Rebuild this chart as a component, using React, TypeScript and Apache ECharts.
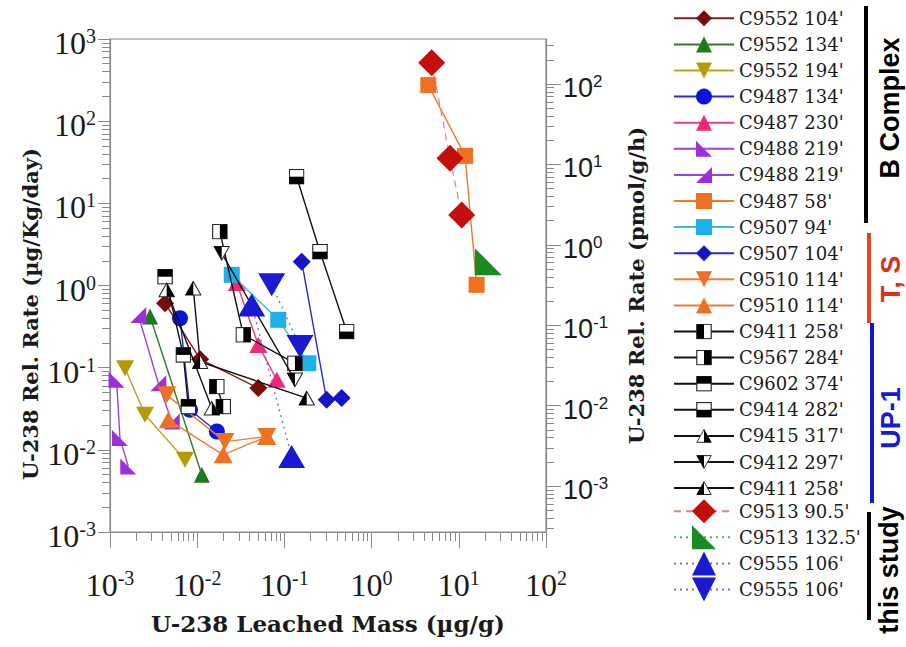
import React, { useEffect, useRef } from 'react';
import * as echarts from 'echarts';

// [U-238 leached mass (µg/g), U-238 release rate (µg/Kg/day)]
const c9552_104 = [[4.28e-3, 0.61], [1.08e-2, 0.127], [5.02e-2, 0.0564]];
const c9552_134 = [[2.88e-3, 0.419], [1.13e-2, 0.00497]];
const c9552_194 = [[1.49e-3, 0.0986], [2.52e-3, 0.0267], [7.24e-3, 0.00755]];
const c9487_134 = [[6.35e-3, 0.4], [8.26e-3, 0.0307], [1.68e-2, 0.0167]];
const c9487_230 = [[2.84e-2, 1.07], [5.02e-2, 0.189], [8.17e-2, 0.0711]];
const c9488_219a = [[1.19e-3, 0.0711], [1.3e-3, 0.0139], [1.62e-3, 0.00627]];
const c9488_219b = [[2.11e-3, 0.439], [3.58e-3, 0.0647], [5.11e-3, 0.0221]];
const c9487_58 = [[4.47, 275], [11.8, 37.8], [16.0, 1.02]];
const c9507_94 = [[2.49e-2, 1.35], [8.51e-2, 0.382], [0.188, 0.113]];
const c9507_104 = [[0.158, 1.95], [0.305, 0.0406], [0.454, 0.0426]];
const c9510_114a = [[4.47e-3, 0.0467], [2.08e-2, 0.0126], [6.27e-2, 0.0145]];
const c9510_114b = [[4.67e-3, 0.0232], [1.99e-2, 0.00869], [6.27e-2, 0.0145]];
const c9411_258sq = [[1.68e-2, 0.0589], [1.99e-2, 0.0336]];
const c9567_284 = [[1.82e-2, 4.53], [3.38e-2, 0.251], [0.132, 0.113]];
const c9602_374 = [[4.28e-3, 1.28], [6.93e-3, 0.143], [7.91e-3, 0.0336]];
const c9414_282 = [[0.138, 21.1], [0.256, 2.58], [0.518, 0.275]];
const c9415_317 = [[4.47e-3, 0.884], [1.47e-2, 0.0321]];
const c9412_297 = [[1.91e-2, 2.47], [0.132, 0.0711]];
const c9411_258tri = [[9.01e-3, 0.927], [1.08e-2, 0.118], [0.18, 0.0426]];
const c9513_905 = [[4.89, 515], [7.93, 35.4], [10.8, 7.23]];
const c9513_1325 = [[21.8, 1.95]];
const c9555_106up = [[4.22e-2, 0.581], [0.121, 0.0083]];
const c9555_106down = [[7.15e-2, 1.02], [0.151, 0.181]];

// decade exponents for tick labels
const xDecades = [-3, -2, -1, 0, 1, 2];
const leftDecades = [-3, -2, -1, 0, 1, 2, 3];
const rightDecades = [-3, -2, -1, 0, 1, 2];
// right axis (pmol/g/h) range, log10
const rightMin = -3.57;
const rightMax = 2.56;

const minorTicks = (from: number, to: number, lo: number, hi: number) => {
  const out: number[] = [];
  for (let d = from; d <= to; d++) {
    for (let k = 2; k <= 9; k++) {
      const v = d + Math.log10(k);
      if (v > lo && v < hi) out.push(v);
    }
  }
  return out;
};

const svgSym = (inner: string) =>
  'image://data:image/svg+xml;charset=utf-8,' +
  encodeURIComponent(
    `<svg xmlns="http://www.w3.org/2000/svg" width="20" height="20" viewBox="0 0 20 20">${inner}</svg>`
  );
const sqBase = '<rect x="1" y="1" width="18" height="18" fill="#fff" stroke="#222" stroke-width="1.4"/>';
const SQ_LEFT = svgSym(sqBase + '<rect x="1" y="1" width="9" height="18" fill="#000"/>');
const SQ_RIGHT = svgSym(sqBase + '<rect x="10" y="1" width="9" height="18" fill="#000"/>');
const SQ_TOP = svgSym(sqBase + '<rect x="1" y="1" width="18" height="9" fill="#000"/>');
const SQ_BOTTOM = svgSym(sqBase + '<rect x="1" y="10" width="18" height="9" fill="#000"/>');
const triUp = '<polygon points="10,2 19,18 1,18" fill="#fff" stroke="#222" stroke-width="1.2"/>';
const TRI_UP_LEFT = svgSym(triUp + '<polygon points="10,2 10,18 1,18" fill="#000"/>');
const TRI_UP_RIGHT = svgSym(triUp + '<polygon points="10,2 19,18 10,18" fill="#000"/>');
const TRI_DOWN_LEFT = svgSym(
  '<polygon points="1,2 19,2 10,18" fill="#fff" stroke="#222" stroke-width="1.2"/><polygon points="1,2 10,2 10,18" fill="#000"/>'
);
const DOWN = 'path://M0,0 L20,0 L10,18 Z';
const RT_LEFT = 'path://M0,0 L0,20 L20,20 Z';
const RT_RIGHT = 'path://M20,0 L20,20 L0,20 Z';

const ZW = '\u200b';

type S = {
  name: string;
  data: number[][];
  symbol: string;
  size: number | number[];
  color: string;
  line: string;
  lineType?: any;
  width?: number;
};

const seriesDefs: S[] = [
  { name: "C9552 104'", data: c9552_104, symbol: 'diamond', size: 18, color: '#7b0a0a', line: '#8b1a1a' },
  { name: "C9552 134'", data: c9552_134, symbol: 'triangle', size: 16, color: '#1f7a1f', line: '#2a7d2a' },
  { name: "C9552 194'", data: c9552_194, symbol: DOWN, size: [18, 16], color: '#b59a00', line: '#bba21a' },
  { name: "C9487 134'", data: c9487_134, symbol: 'circle', size: 16, color: '#0a14e0', line: '#2a2ad0' },
  { name: "C9487 230'", data: c9487_230, symbol: 'triangle', size: [18, 16], color: '#f2267a', line: '#f03a82' },
  { name: "C9488 219'", data: c9488_219a, symbol: RT_LEFT, size: 16, color: '#9d2fd8', line: '#a040d8' },
  { name: "C9488 219'" + ZW, data: c9488_219b, symbol: RT_RIGHT, size: 16, color: '#9d2fd8', line: '#a040d8' },
  { name: "C9487 58'", data: c9487_58, symbol: 'rect', size: 16, color: '#f07022', line: '#f07a30' },
  { name: "C9507 94'", data: c9507_94, symbol: 'rect', size: 16, color: '#1eb0ea', line: '#3ab8ea' },
  { name: "C9507 104'", data: c9507_104, symbol: 'diamond', size: 18, color: '#1414c8', line: '#2a2ad0' },
  { name: "C9510 114'", data: c9510_114a, symbol: DOWN, size: [19, 17], color: '#f07022', line: '#f07a30' },
  { name: "C9510 114'" + ZW, data: c9510_114b, symbol: 'triangle', size: [19, 17], color: '#f07022', line: '#f07a30' },
  { name: "C9411 258'", data: c9411_258sq, symbol: SQ_LEFT, size: 16, color: '#000', line: '#111' },
  { name: "C9567 284'", data: c9567_284, symbol: SQ_RIGHT, size: 16, color: '#000', line: '#111' },
  { name: "C9602 374'", data: c9602_374, symbol: SQ_TOP, size: 16, color: '#000', line: '#111' },
  { name: "C9414 282'", data: c9414_282, symbol: SQ_BOTTOM, size: 16, color: '#000', line: '#111' },
  { name: "C9415 317'", data: c9415_317, symbol: TRI_UP_RIGHT, size: 17, color: '#000', line: '#111' },
  { name: "C9412 297'", data: c9412_297, symbol: TRI_DOWN_LEFT, size: 17, color: '#000', line: '#111' },
  { name: "C9411 258'" + ZW, data: c9411_258tri, symbol: TRI_UP_LEFT, size: 17, color: '#000', line: '#111' },
  { name: "C9513 90.5'", data: c9513_905, symbol: 'diamond', size: 27, color: '#c40d0d', line: '#e88080', lineType: [7, 5], width: 1.2 },
  { name: "C9513 132.5'", data: c9513_1325, symbol: RT_LEFT, size: 27, color: '#1a8a22', line: '#5aaa5a', lineType: [2, 4], width: 1.2 },
  { name: "C9555 106'", data: c9555_106up, symbol: 'triangle', size: [27, 23], color: '#1a1ad2', line: '#7070e0', lineType: [2, 4], width: 1.4 },
  { name: "C9555 106'" + ZW, data: c9555_106down, symbol: DOWN, size: [27, 23], color: '#1a1ad2', line: '#7070e0', lineType: [2, 4], width: 1.4 },
];

const AX = '#8a8a8a';
const TXT = '#1a1a1a';
const supFmt = (v: number) => `{b|10}{s|${Math.round(v)}}`;
const serifRich = {
  b: { fontFamily: 'Liberation Serif', fontSize: 32, lineHeight: 34, color: TXT },
  s: { fontFamily: 'Liberation Serif', fontSize: 20, lineHeight: 18, color: TXT, verticalAlign: 'top' },
};
const sansRich = {
  b: { fontFamily: 'Liberation Sans', fontSize: 27, lineHeight: 30, color: TXT },
  s: { fontFamily: 'Liberation Sans', fontSize: 17, lineHeight: 16, color: TXT, verticalAlign: 'top' },
};
const titleStyle = { fontFamily: 'DejaVu Serif', fontWeight: 'bold', fontSize: 21, color: TXT };

export default function App() {
  const ref = useRef<HTMLDivElement>(null);
  useEffect(() => {
    if (!ref.current) return;
    const chart = echarts.init(ref.current, null, { renderer: 'svg' });
    const names = seriesDefs.map((d) => d.name);
    const legendCommon = {
      orient: 'vertical',
      left: 673,
      padding: 0,
      itemWidth: 60,
      selectedMode: false,
      formatter: (n: string) => `{t|${n.replace(/\u200b/g, '')}}`,
      textStyle: {
        fontFamily: 'DejaVu Serif', fontSize: 18, color: TXT, lineHeight: 20,
        rich: { t: { fontFamily: 'DejaVu Serif', fontSize: 18, color: TXT, lineHeight: 20 } },
      },
    };
    const rowY = (k: number) => 18.3 + k * 26.1;
    const legends: any[] = [
      { ...legendCommon, data: names.slice(0, 19), top: rowY(0) - 10, itemHeight: 20, itemGap: 6.1 },
    ];
    for (let k = 19; k < names.length; k++) {
      legends.push({ ...legendCommon, data: [names[k]], top: rowY(k) - 15, itemHeight: 30, itemGap: 0 });
    }
    const bracketFont = 'bold 27px "Liberation Sans"';
    chart.setOption({
      animation: false,
      backgroundColor: '#fff',
      grid: { left: 110, right: 360, top: 39, bottom: 115, show: true, borderColor: AX, borderWidth: 1.2 },
      legend: legends,
      xAxis: [
        {
          type: 'value', min: -3, max: 2, position: 'bottom',
          axisLine: { show: true, onZero: false, lineStyle: { color: AX, width: 1.2 } },
          axisTick: { show: true, length: 16, customValues: xDecades, lineStyle: { color: AX } },
          axisLabel: { customValues: xDecades, formatter: supFmt, margin: 36, rich: serifRich },
          splitLine: { show: false },
          name: 'U-238 Leached Mass (µg/g)', nameLocation: 'middle', nameGap: 80,
          nameTextStyle: { ...titleStyle, fontSize: 23 },
        },
        {
          type: 'value', min: -3, max: 2, position: 'bottom',
          axisLine: { show: false, onZero: false },
          axisTick: { show: true, length: 9, customValues: minorTicks(-3, 1, -3, 2), lineStyle: { color: AX } },
          axisLabel: { show: false },
          splitLine: { show: false },
        },
      ],
      yAxis: [
        {
          type: 'value', min: -3, max: 3, position: 'left',
          axisLine: { show: true, onZero: false, lineStyle: { color: AX, width: 1.2 } },
          axisTick: { show: true, length: 12, customValues: leftDecades, lineStyle: { color: AX } },
          axisLabel: { customValues: leftDecades, formatter: supFmt, margin: 14, rich: serifRich, padding: [8, 0, 0, 0] },
          splitLine: { show: false },
        },
        {
          type: 'value', min: rightMin, max: rightMax, position: 'right',
          axisLine: { show: true, onZero: false, lineStyle: { color: AX, width: 1.2 } },
          axisTick: { show: true, length: 15, customValues: rightDecades, lineStyle: { color: AX } },
          axisLabel: { customValues: rightDecades, formatter: supFmt, margin: 17, rich: sansRich, padding: [8, 0, 0, 0] },
          splitLine: { show: false },
          name: 'U-238 Rel. Rate (pmol/g/h)', nameLocation: 'middle', nameRotate: 90, nameGap: 80,
          nameTextStyle: titleStyle,
        },
        {
          type: 'value', min: -3, max: 3, position: 'left',
          axisLine: { show: false, onZero: false },
          axisTick: { show: true, length: 8, customValues: minorTicks(-3, 2, -3, 3), lineStyle: { color: AX } },
          axisLabel: { show: false },
          splitLine: { show: false },
        },
        {
          type: 'value', min: rightMin, max: rightMax, position: 'right',
          axisLine: { show: false, onZero: false },
          axisTick: { show: true, length: 8, customValues: minorTicks(-4, 2, rightMin, rightMax), lineStyle: { color: AX } },
          axisLabel: { show: false },
          splitLine: { show: false },
        },
      ],
      series: seriesDefs.map((d, i) => ({
        type: 'line',
        name: d.name,
        xAxisIndex: 0,
        yAxisIndex: 0,
        data: d.data.map(([x, y]) => [Math.log10(x), Math.log10(y)]),
        symbol: d.symbol,
        symbolSize: d.size,
        showSymbol: true,
        itemStyle: { color: d.color, opacity: 1 },
        lineStyle: { color: d.line, width: d.width ?? 1.4, type: d.lineType ?? 'solid' },
        z: 2 + i * 0.01,
      })),
      graphic: [
        { type: 'text', x: 30, y: 314, rotation: Math.PI / 2, style: { text: 'U-238 Rel. Rate (µg/Kg/day)', fill: TXT, font: "bold 21px 'DejaVu Serif'", align: 'center', verticalAlign: 'middle' } },
        { type: 'rect', shape: { x: 864, y: 6, width: 4, height: 217 }, style: { fill: '#000' } },
        { type: 'text', x: 890, y: 108, rotation: Math.PI / 2, style: { text: 'B Complex', fill: '#000', font: bracketFont, align: 'center', verticalAlign: 'middle' } },
        { type: 'rect', shape: { x: 867, y: 233, width: 4, height: 90 }, style: { fill: '#e2461e' } },
        { type: 'text', x: 891, y: 279, rotation: Math.PI / 2, style: { text: 'T, S', fill: '#d8321c', font: bracketFont, align: 'center', verticalAlign: 'middle' } },
        { type: 'rect', shape: { x: 870, y: 323, width: 4, height: 180 }, style: { fill: '#1515cf' } },
        { type: 'text', x: 891, y: 418, rotation: Math.PI / 2, style: { text: 'UP-1', fill: '#1a1ad0', font: bracketFont, align: 'center', verticalAlign: 'middle' } },
        { type: 'rect', shape: { x: 867, y: 512, width: 4, height: 108 }, style: { fill: '#000' } },
        { type: 'text', x: 889, y: 570, rotation: Math.PI / 2, style: { text: 'this study', fill: '#000', font: bracketFont, align: 'center', verticalAlign: 'middle' } },
      ],
    });
    return () => chart.dispose();
  }, []);
  return <div ref={ref} style={{ position: 'fixed', left: 0, top: 0, width: 906, height: 647 }} />;
}
